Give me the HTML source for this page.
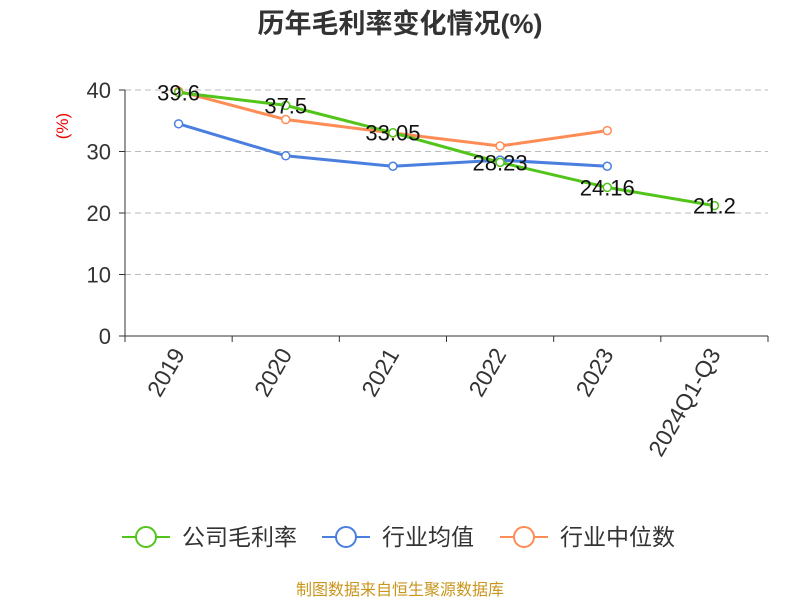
<!DOCTYPE html>
<html><head><meta charset="utf-8"><style>
body{margin:0;background:#fff;}
svg text{font-family:"Liberation Sans","Noto Sans CJK SC",sans-serif;}
</style></head><body>
<svg width="800" height="600" xmlns="http://www.w3.org/2000/svg">
<text x="400" y="33" text-anchor="middle" font-size="27" font-weight="bold" fill="#333">历年毛利率变化情况(%)</text>
<text x="68" y="126" text-anchor="middle" font-size="17" fill="#e00" transform="rotate(-90 68 126)">(%)</text>
<g id="grid"></g><g id="axes"></g><g id="series"></g>
<g>
<g><line x1="122" y1="537" x2="170" y2="537" stroke="#52c41a" stroke-width="2"/><circle cx="146" cy="537" r="10" fill="#fff" stroke="#52c41a" stroke-width="2"/><text x="182" y="545" font-size="23" fill="#333">公司毛利率</text></g>
<g><line x1="322" y1="537" x2="370" y2="537" stroke="#4a7fe0" stroke-width="2"/><circle cx="346" cy="537" r="10" fill="#fff" stroke="#4a7fe0" stroke-width="2"/><text x="382" y="545" font-size="23" fill="#333">行业均值</text></g>
<g><line x1="500" y1="537" x2="548" y2="537" stroke="#ff8c55" stroke-width="2"/><circle cx="524" cy="537" r="10" fill="#fff" stroke="#ff8c55" stroke-width="2"/><text x="560" y="545" font-size="23" fill="#333">行业中位数</text></g>
</g>
<text x="400" y="595" text-anchor="middle" font-size="16" fill="#c8961e">制图数据来自恒生聚源数据库</text>
</svg>
<script>
const categories=["2019","2020","2021","2022","2023","2024Q1-Q3"];
const company=[39.6,37.5,33.05,28.23,24.16,21.2];
const industryAvg=[34.5,29.3,27.6,28.6,27.6,null];
const industryMedian=[39.8,35.2,33.0,30.9,33.4,null];
const yTicks=[0,10,20,30,40];
const NS="http://www.w3.org/2000/svg";
const x0=125,x1=768,yb=336,yt=90,ymax=40;
const bw=(x1-x0)/categories.length;
const X=i=>x0+bw*(i+0.5);
const Y=v=>yb-(v/ymax)*(yb-yt);
function mk(p,tag,a){const e=document.createElementNS(NS,tag);for(const k in a)e.setAttribute(k,a[k]);p.appendChild(e);return e;}
const grid=document.getElementById('grid'),axes=document.getElementById('axes'),ser=document.getElementById('series');
yTicks.forEach(t=>{
 if(t>0){const l=mk(grid,'line',{x1:x0,x2:x1,y1:Y(t),y2:Y(t),stroke:'#bbb','stroke-dasharray':'6,4'});
 
 }
 mk(axes,'line',{x1:x0-6,x2:x0,y1:Y(t),y2:Y(t),stroke:'#333'});
 const tx=mk(axes,'text',{x:x0-14,y:Y(t)+8,'text-anchor':'end','font-size':22,fill:'#333'});tx.textContent=t;
 
 
});
const ya=mk(axes,'line',{x1:x0,x2:x0,y1:yt,y2:yb,stroke:'#333'});


const xa=mk(axes,'line',{x1:x0,x2:x1,y1:yb,y2:yb,stroke:'#333'});


for(let i=0;i<=categories.length;i++)mk(axes,'line',{x1:x0+bw*i,x2:x0+bw*i,y1:yb,y2:yb+6,stroke:'#333'});
categories.forEach((c,i)=>{
 const tx=mk(axes,'text',{x:X(i)+7,y:yb+18,'text-anchor':'end','font-size':23,fill:'#333',transform:`rotate(-60 ${X(i)+7} ${yb+18})`});tx.textContent=c;
 
 
});
function draw(vals,color,name){
 const pts=vals.map((v,i)=>v==null?null:[X(i),Y(v)]).filter(p=>p);
 const pl=mk(ser,'polyline',{points:pts.map(p=>p.join(',')).join(' '),fill:'none',stroke:color,'stroke-width':3});
 
 
 vals.forEach((v,i)=>{if(v==null)return;
  const c=mk(ser,'circle',{cx:X(i),cy:Y(v),r:4,fill:'#fff',stroke:color,'stroke-width':1.5});
  
  
 });
}
draw(industryAvg,'#4a7fe0','industry-avg');
draw(industryMedian,'#ff8c55','industry-median');
draw(company,'#52c41a','company');
company.forEach((v,i)=>{
 const t=mk(ser,'text',{x:X(i),y:Y(v)+8,'text-anchor':'middle','font-size':22,fill:'#111'});t.textContent=v;
 
 
});
</script>
</body></html>
